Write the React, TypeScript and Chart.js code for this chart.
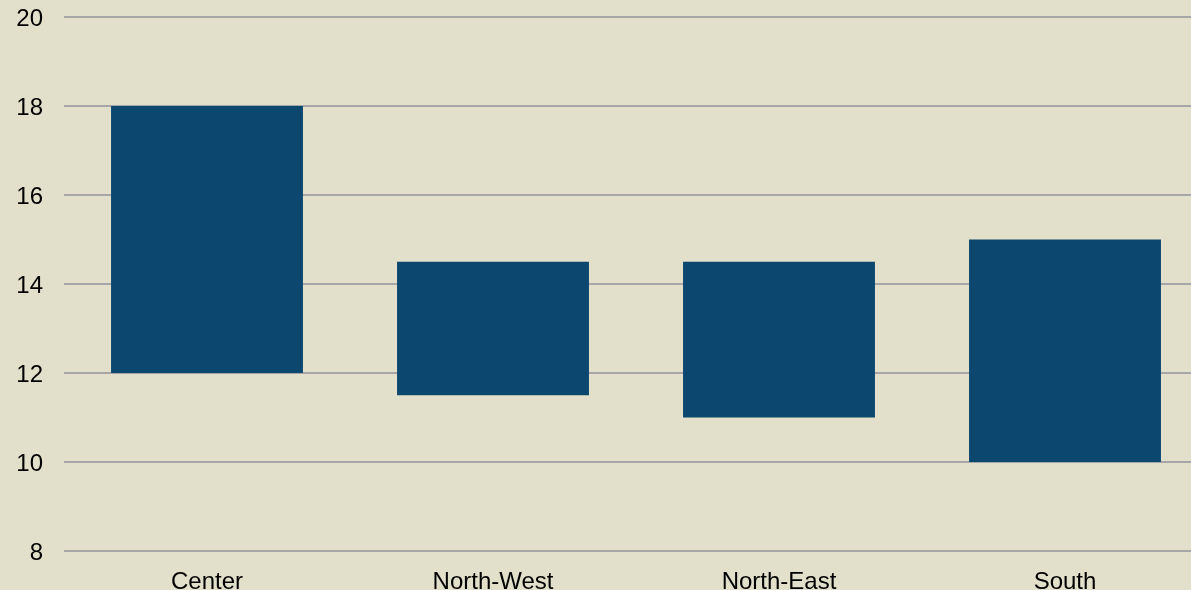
import React, { useEffect, useRef } from "react";
import { Chart, registerables } from "chart.js";

Chart.register(...registerables);

const categories = ["Center", "North-West", "North-East", "South"];
const lowValues = [12, 11.5, 11, 10];
const highValues = [18, 14.5, 14.5, 15];
const yMin = 8;
const yMax = 20;
const yStep = 2;

const BG = "#E2E0CB";
const BAR = "#0B476E";
const GRID = "#A6A6A6";

export default function App() {
  const canvasRef = useRef<HTMLCanvasElement | null>(null);

  useEffect(() => {
    const canvas = canvasRef.current;
    if (!canvas) return;
    const chart = new Chart(canvas, {
      type: "bar",
      data: {
        labels: categories,
        datasets: [
          {
            label: "Range",
            data: categories.map((_, i) => [lowValues[i], highValues[i]]) as any,
            backgroundColor: BAR,
            borderWidth: 0,
            borderSkipped: false,
            categoryPercentage: 1,
            barPercentage: 0.671,
          },
        ],
      },
      options: {
        animation: false,
        responsive: false,
        maintainAspectRatio: false,
        layout: { padding: { left: 0, right: 4, top: 17, bottom: 0 } },
        plugins: {
          legend: { display: false },
          tooltip: { enabled: false },
        },
        scales: {
          x: {
            grid: { display: false, drawTicks: false },
            border: { display: false },
            afterFit: (scale: any) => {
              scale.height = 39;
              scale.paddingLeft = 0;
              scale.paddingRight = 0;
            },
            ticks: {
              color: "#000000",
              padding: 17,
              font: { family: "'Liberation Sans', Arial, sans-serif", size: 24 },
              maxRotation: 0,
            },
          },
          y: {
            min: yMin,
            max: yMax,
            grid: { color: GRID, lineWidth: 2, drawTicks: false },
            border: { display: false },
            afterFit: (scale: any) => {
              scale.width = 64;
              scale.paddingTop = 0;
              scale.paddingBottom = 0;
            },
            ticks: {
              stepSize: yStep,
              color: "#000000",
              padding: 21,
              labelOffset: 2,
              font: { family: "'Liberation Sans', Arial, sans-serif", size: 24 },
            },
          },
        },
      },
    });
    return () => chart.destroy();
  }, []);

  return (
    <div
      style={{
        position: "fixed",
        left: 0,
        top: 0,
        width: 1191,
        height: 590,
        overflow: "hidden",
        background: BG,
      }}
    >
      <canvas ref={canvasRef} width={1212} height={590} style={{ display: "block" }} />
    </div>
  );
}
